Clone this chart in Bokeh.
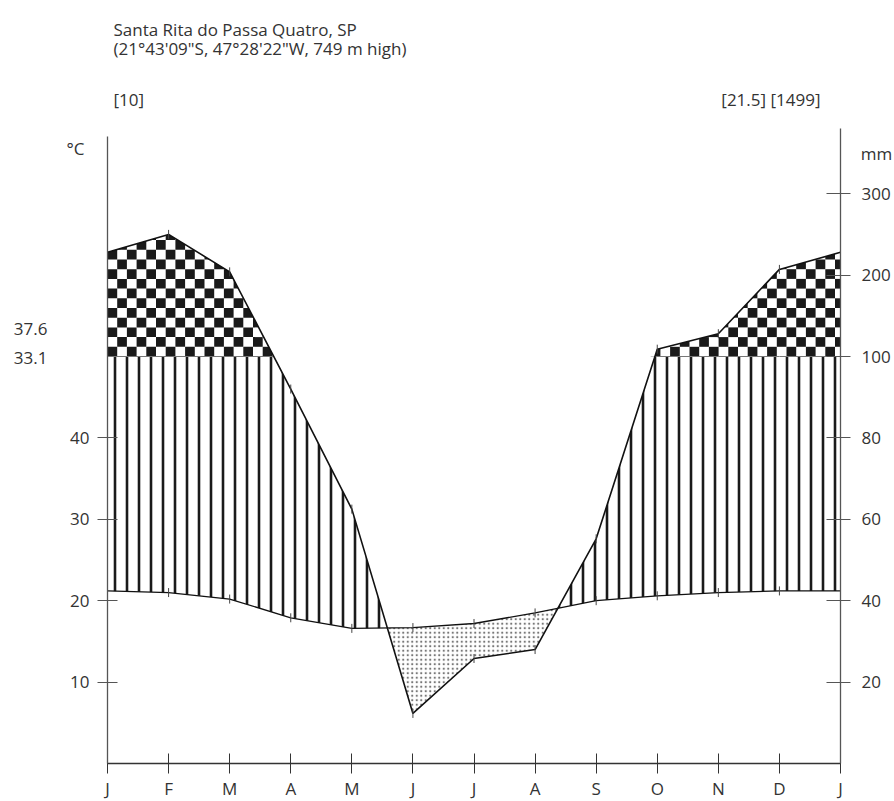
import numpy as np
from bokeh.plotting import figure
from bokeh.models import LinearAxis, FixedTicker, Label, Range1d, ColumnDataSource
from bokeh.embed import file_html
from bokeh.resources import INLINE

# ---- data ----
station = "Santa Rita do Passa Quatro, SP"
location = "(21°43'09\"S, 47°28'22\"W, 749 m high)"
years_label = "[10]"
summary_label = "[21.5] [1499]"
tmax_label = "37.6"
tmin_label = "33.1"
month_labels = ["J", "F", "M", "A", "M", "J", "J", "A", "S", "O", "N", "D", "J"]
temp_c = [21.2, 21.0, 20.2, 17.9, 16.6, 16.7, 17.2, 18.5, 20.0, 20.6, 21.0, 21.2]
precip_mm = [228, 250, 204, 92, 62.5, 12.3, 25.8, 28, 55.2, 109, 128, 207]
temp_ticks = [10, 20, 30, 40]
precip_ticks = [20, 40, 60, 80, 100, 200, 300]


def precip_to_plot(v):
    # Walter-Lieth: 10 degC = 20 mm; above 100 mm the scale is compressed
    return v / 2.0 if v <= 100 else 50.0 + (v - 100.0) / 10.0


HUMID_TOP = precip_to_plot(100)

xn = np.arange(len(temp_c) + 1, dtype=float)
tn = np.array(temp_c + temp_c[:1], dtype=float)
pn = np.array([precip_to_plot(v) for v in precip_mm + precip_mm[:1]])

# insert crossing points for clean fills
X, T, P = [xn[0]], [tn[0]], [pn[0]]
for i in range(len(xn) - 1):
    fr = []
    d0, d1 = pn[i] - tn[i], pn[i + 1] - tn[i + 1]
    if d0 * d1 < 0:
        fr.append(d0 / (d0 - d1))
    e0, e1 = pn[i] - HUMID_TOP, pn[i + 1] - HUMID_TOP
    if e0 * e1 < 0:
        fr.append(e0 / (e0 - e1))
    for f in sorted(fr):
        X.append(xn[i] + f)
        T.append(tn[i] + f * (tn[i + 1] - tn[i]))
        P.append(pn[i] + f * (pn[i + 1] - pn[i]))
    X.append(xn[i + 1]); T.append(tn[i + 1]); P.append(pn[i + 1])
X, T, P = np.array(X), np.array(T), np.array(P)
WET_TOP = np.maximum(P, HUMID_TOP)

FONT = "Open Sans"
FS = "17px"
TXT = "#333333"
AX = "#555555"

W, H = 894, 801
X0PX, X12PX, Y0PX, PXY = 107.0, 840.0, 763.0, 8.14
pxm = (X12PX - X0PX) / 12.0
x_rng = Range1d(-X0PX / pxm, 12 + (W - X12PX) / pxm)
y_rng = Range1d(-(H - Y0PX) / PXY, Y0PX / PXY)

# checkerboard cells for the perhumid (> 100 mm) part
CELL_PX = 9.7
cdx, cdy = CELL_PX / pxm, CELL_PX / PXY
ncols = int(np.ceil(12 / cdx))
nrows = int(np.ceil((WET_TOP.max() - HUMID_TOP) / cdy))
cl, cr, cb, ct = [], [], [], []
for i in range(ncols):
    x0, x1 = i * cdx, min((i + 1) * cdx, 12.0)
    inside = WET_TOP[(X >= x0) & (X <= x1)]
    colmax = max(np.interp([x0, x1], X, WET_TOP).max(), inside.max() if inside.size else -np.inf)
    for j in range(nrows):
        if (i + j) % 2:
            continue
        y0 = HUMID_TOP + j * cdy
        if y0 >= colmax:
            continue
        cl.append(x0); cr.append(x1); cb.append(y0); ct.append(y0 + cdy)
MASK_TOP = HUMID_TOP + (nrows + 1) * cdy

fills = ColumnDataSource(dict(
    x=X,
    wet_top=WET_TOP,
    mask_top=np.full_like(X, MASK_TOP),
    t=T,
    humid_top=np.maximum(T, np.minimum(P, HUMID_TOP)),
    dry_low=np.minimum(P, T),
    line100=np.where(P >= HUMID_TOP - 1e-9, HUMID_TOP, np.nan),
))

p = figure(width=W, height=H, x_range=x_rng, y_range=y_rng,
           output_backend="svg", toolbar_location=None,
           min_border=0, min_border_left=0, min_border_right=0,
           min_border_top=0, min_border_bottom=0)
p.outline_line_color = None
p.xgrid.visible = False
p.ygrid.visible = False
p.background_fill_color = "white"
p.border_fill_color = "white"

# perhumid: checkerboard squares, trimmed by a white mask above the curve
p.quad(left=cl, right=cr, bottom=cb, top=ct, fill_color="#1a1a1a", line_color=None)
p.varea(x="x", y1="wet_top", y2="mask_top", source=fills, fill_color="white")
# humid: vertical lines
p.varea(x="x", y1="t", y2="humid_top", source=fills, fill_alpha=0,
        hatch_pattern="vertical_line", hatch_scale=12, hatch_weight=2.6, hatch_color="#1a1a1a")
# dry: dots
p.varea(x="x", y1="dry_low", y2="t", source=fills, fill_alpha=0,
        hatch_pattern="dot", hatch_scale=4.5, hatch_weight=0.8, hatch_color="#777777")

p.line(x="x", y="line100", source=fills, line_color="#777777", line_width=1)

p.line(xn, tn, line_color="#111111", line_width=1.3)
p.line(xn, pn, line_color="#111111", line_width=1.6)
p.scatter(xn, tn, marker="dash", angle=np.pi / 2, size=9, line_color="#444444", line_width=1)
p.scatter(xn, pn, marker="dash", angle=np.pi / 2, size=9, line_color="#444444", line_width=1)

# axes (placed at fixed data locations)
xa = p.xaxis[0]
xa.fixed_location = 0
xa.bounds = (0, 12)
xa.ticker = FixedTicker(ticks=list(range(13)))
xa.major_label_overrides = {i: month_labels[i] for i in range(13)}
xa.minor_tick_line_color = None
xa.major_tick_in = 10
xa.major_tick_out = 10
xa.major_label_standoff = 3
xa.axis_line_color = "#333333"
xa.axis_line_width = 1.3
xa.major_tick_line_color = "#333333"

ya = p.yaxis[0]
ya.fixed_location = 0
ya.ticker = FixedTicker(ticks=temp_ticks)
ya.bounds = (0, 77)
ya.minor_tick_line_color = None
ya.major_tick_in = 10
ya.major_tick_out = 10
ya.major_label_standoff = 8
ya.axis_line_color = AX
ya.axis_line_width = 1.3
ya.major_tick_line_color = AX

ra = LinearAxis(ticker=FixedTicker(ticks=[precip_to_plot(v) for v in precip_ticks]),
                major_label_overrides={precip_to_plot(v): str(v) for v in precip_ticks},
                bounds=(0, 78), fixed_location=12)
ra.minor_tick_line_color = None
ra.major_tick_in = 14
ra.major_tick_out = 10
ra.major_label_standoff = 11
ra.axis_line_color = AX
ra.axis_line_width = 1.3
ra.major_tick_line_color = AX
p.add_layout(ra, "right")

for ax in (xa, ya, ra):
    ax.major_label_text_font = FONT
    ax.major_label_text_font_size = FS
    ax.major_label_text_color = TXT


def ypos(px):
    return (Y0PX - px) / PXY


def xpos(px):
    return (px - X0PX) / pxm


def lab(xp, yp, text, align="left"):
    p.add_layout(Label(x=xpos(xp), y=ypos(yp), text=text, text_font=FONT, text_font_size=FS,
                       text_color=TXT, text_align=align, text_baseline="middle"))


lab(113, 29, station)
lab(113, 48, location)
lab(113, 99, years_label)
lab(820, 99, summary_label, "right")
lab(75, 148, "°C", "center")
lab(876, 153, "mm", "center")
lab(47, 328, tmax_label, "right")
lab(47, 357, tmin_label, "right")

open("out.html", "w").write(file_html(p, INLINE))
